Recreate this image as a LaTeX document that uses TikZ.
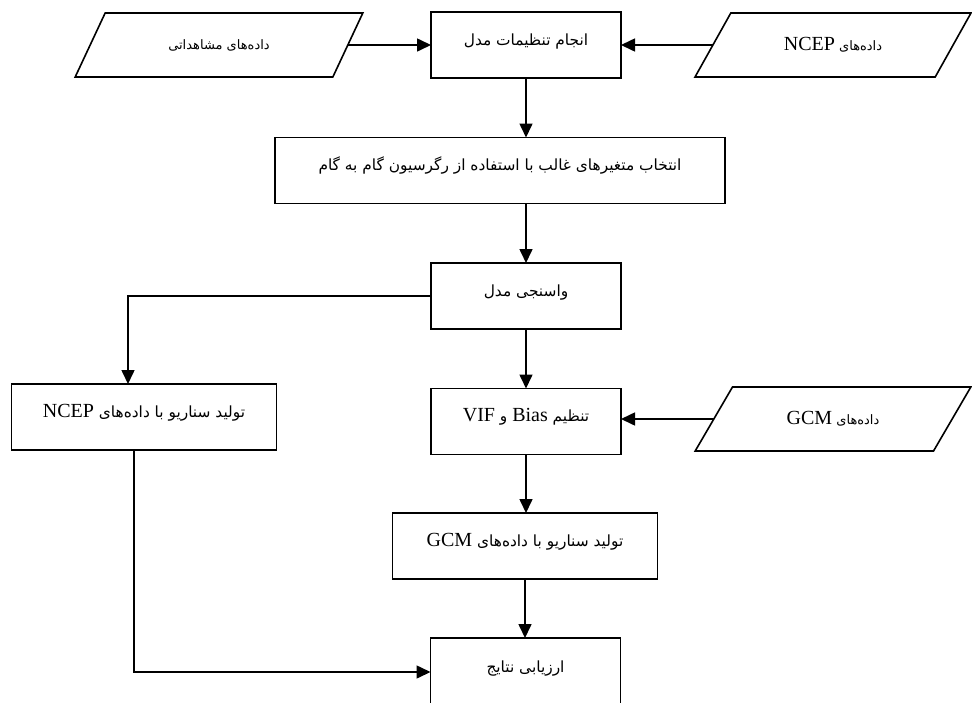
\documentclass[tikz,border=0pt]{standalone}
\usepackage{fontspec}
\setmainfont{Liberation Serif}
\newfontfamily\persfont[Script=Arabic]{DejaVu Sans}
\usetikzlibrary{shapes.geometric,arrows.meta}
\TeXXeTstate=1
\newcommand{\boxfa}[1]{\raisebox{0pt}[0pt][0pt]{\persfont\fontsize{15.4}{18}\selectfont\beginR #1\endR}}
\newcommand{\datafa}[1]{{\persfont\fontsize{13}{15}\selectfont\beginR #1\endR}}
\newcommand{\ltn}[1]{\beginL{\rmfamily\fontsize{20}{23}\selectfont #1}\endL}
\begin{document}
\begin{tikzpicture}[x=1pt,y=-1pt,
  stepbox/.style={draw, line width=1.6pt, minimum width=190pt, minimum height=66pt, inner sep=0pt, outer sep=0pt},
  databox/.style={trapezium, trapezium left angle=41, trapezium right angle=139, trapezium stretches=true,
    draw, line width=1.6pt, minimum width=288pt, minimum height=64pt, inner sep=0pt, outer sep=0pt},
  arr/.style={line width=1.6pt, -{Triangle[length=14pt,width=13pt]}}]
\useasboundingbox (0,0) rectangle (972,702);
\node[databox] (obs) at (219,45) {\datafa{داده‌های مشاهداتی}};
\node[stepbox] (setup) at (526,45) {\boxfa{انجام تنظیمات مدل}};
\node[databox, minimum width=276pt] (ncep) at (833,45) {\datafa{داده‌های \ltn{NCEP}}};
\node[stepbox, minimum width=450pt] (select) at (500,170.5) {\boxfa{انتخاب متغیرهای غالب با استفاده از رگرسیون گام به گام}};
\node[stepbox] (calib) at (526,296) {\boxfa{واسنجی مدل}};
\node[stepbox, minimum width=265pt] (scenN) at (144,417) {\boxfa{تولید سناریو با داده‌های \ltn{NCEP}}};
\node[stepbox] (bias) at (526,421.5) {\boxfa{تنظیم \ltn{Bias} و \ltn{VIF}}};
\node[databox, minimum width=276pt] (gcm) at (833,419) {\datafa{داده‌های \ltn{GCM}}};
\node[stepbox, minimum width=265pt] (scenG) at (525,546) {\boxfa{تولید سناریو با داده‌های \ltn{GCM}}};
\node[stepbox, minimum height=68pt] (eval) at (525.5,672) {\boxfa{ارزیابی نتایج}};
\draw[arr] (obs.east) -- (setup.west);
\draw[arr] (ncep.west) -- (setup.east);
\draw[arr] (setup.south) -- (setup.south |- select.north);
\draw[arr] (calib.north |- select.south) -- (calib.north);
\draw[arr] (calib.west) -| ([xshift=-16pt]scenN.north);
\draw[arr] (calib.south) -- (bias.north);
\draw[arr] (gcm.west) -- (gcm.west -| bias.east);
\draw[arr] (bias.south) -- (bias.south |- scenG.north);
\draw[arr] (scenG.south) -- (scenG.south |- eval.north);
\draw[arr] ([xshift=-10pt]scenN.south) |- (eval.west);
\end{tikzpicture}
\end{document}
